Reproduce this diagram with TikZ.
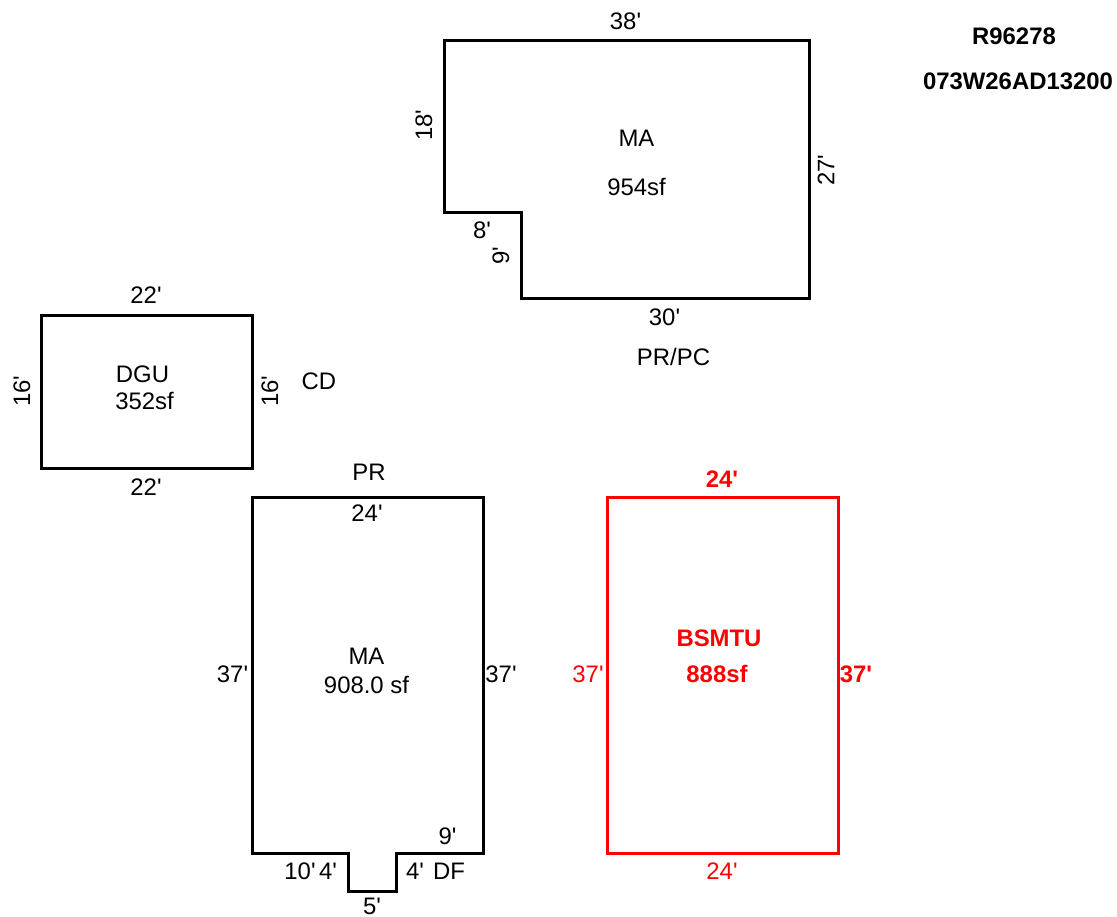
\documentclass[tikz,border=0pt]{standalone}
\usepackage{fontspec}
\setmainfont{Liberation Sans}[Ligatures=TeXOff]
\begin{document}
\begin{tikzpicture}[x=0.02cm, y=-0.02cm,
    planline/.style={draw=black, line width=1.72pt, line join=miter},
    redline/.style={draw=red, line width=1.72pt, line join=miter},
    dimtext/.style={font=\fontsize{13.6}{16}\selectfont, inner sep=0pt, text=black},
    reddim/.style={dimtext, text=red},
    redbold/.style={dimtext, text=red, font=\fontsize{13.6}{16}\selectfont\bfseries},
    idtext/.style={dimtext, font=\fontsize{13.6}{16}\selectfont\bfseries}]
    \useasboundingbox (0,0) rectangle (1117,917);
    % outlines
    \draw[planline] (444.5,40.5) -- (809.5,40.5) -- (809.5,298.5) -- (521.5,298.5) -- (521.5,212.5) -- (444.5,212.5) -- cycle; % upper floor
    \draw[planline] (41.5,315.5) rectangle (252.5,468.5); % garage
    \draw[planline] (252.5,497.5) -- (483.5,497.5) -- (483.5,853.5) -- (396.5,853.5) -- (396.5,891.5) -- (348.5,891.5) -- (348.5,853.5) -- (252.5,853.5) -- cycle; % main floor
    \draw[redline] (607.5,497.5) rectangle (838.5,853.5); % basement
    % id
    \node[idtext] (idA) at (1014,36) {R96278};
    \node[idtext] (idB) at (1018,81) {073W26AD13200};
    % upper floor labels
    \node[dimtext] (upTop) at (625.5,21) {38'};
    \node[dimtext, rotate=90] (upLeft) at (424,125) {18'};
    \node[dimtext, rotate=90] (upRight) at (826,170) {27'};
    \node[dimtext] (upStep) at (482,230) {8'};
    \node[dimtext, rotate=90] (upRise) at (501,256) {9'};
    \node[dimtext] (upBot) at (664.5,317) {30'};
    \node[dimtext] (upName) at (636.5,138) {MA};
    \node[dimtext] (upArea) at (636.5,187) {954sf};
    \node[dimtext] (upPorch) at (673.5,357) {PR/PC};
    % garage labels
    \node[dimtext] (gaTop) at (146,295) {22'};
    \node[dimtext] (gaBot) at (146,487) {22'};
    \node[dimtext, rotate=90] (gaLeft) at (22,391) {16'};
    \node[dimtext, rotate=90] (gaRight) at (270,391) {16'};
    \node[dimtext] (gaName) at (142.5,374) {DGU};
    \node[dimtext] (gaArea) at (144.5,401) {352sf};
    \node[dimtext] (gaDeck) at (319,381) {CD};
    % main floor labels
    \node[dimtext] (maPorch) at (369,472) {PR};
    \node[dimtext] (maTop) at (367,513) {24'};
    \node[dimtext] (maLeft) at (232.5,674) {37'};
    \node[dimtext] (maRight) at (501,674) {37'};
    \node[dimtext] (maName) at (366.5,656) {MA};
    \node[dimtext] (maArea) at (366.5,685) {908.0 sf};
    \node[dimtext] (maNine) at (447.5,836) {9'};
    \node[dimtext] (maTen) at (300,871) {10'};
    \node[dimtext] (maFourA) at (328,871) {4'};
    \node[dimtext] (maFourB) at (415,871) {4'};
    \node[dimtext] (maDeck) at (449,871) {DF};
    \node[dimtext] (maFive) at (372,906) {5'};
    % basement labels
    \node[redbold] (baTop) at (722,479) {24'};
    \node[reddim] (baLeft) at (588,674) {37'};
    \node[redbold] (baRight) at (856,674) {37'};
    \node[redbold] (baName) at (719,638) {BSMTU};
    \node[redbold] (baArea) at (717,674) {888sf};
    \node[reddim] (baBot) at (722,871) {24'};
\end{tikzpicture}
\end{document}
